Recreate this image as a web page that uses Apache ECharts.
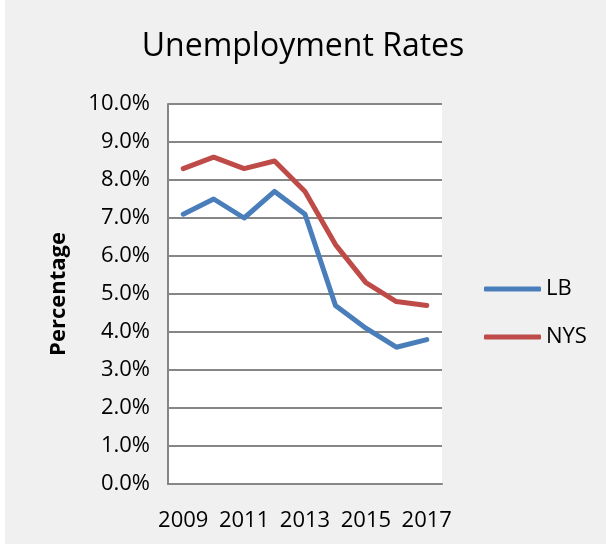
<!DOCTYPE html>
<html><head><meta charset="utf-8">
<script src="https://cdn.jsdelivr.net/npm/echarts@6/dist/echarts.min.js"></script>
<style>html,body{margin:0;padding:0;background:#fff;}#c{width:606px;height:544px;}</style>
</head><body><div id="c"></div>
<script>
const years = ['2009','2010','2011','2012','2013','2014','2015','2016','2017'];
const lb = [7.1, 7.5, 7.0, 7.7, 7.1, 4.7, 4.1, 3.6, 3.8];
const nys = [8.3, 8.6, 8.3, 8.5, 7.7, 6.3, 5.3, 4.8, 4.7];
const chart = echarts.init(document.getElementById('c'), null, {renderer:'canvas'});
const font = '"Open Sans", "Noto Sans", sans-serif';
chart.setOption({
  backgroundColor: '#f0f0f0',
  animation: false,
  graphic: [{type:'rect', left:0, top:0, shape:{width:5, height:544}, style:{fill:'#fff'}}],
  title: {text:'Unemployment Rates', left:'center', top:26, textStyle:{fontFamily:font, fontSize:32, fontWeight:'normal', color:'#000'}},
  grid: {left:168, right:164, top:104, bottom:60, show:true, backgroundColor:'#fff', borderWidth:0},
  legend: {orient:'vertical', left:479, top:273, itemGap:26, itemWidth:57, itemHeight:5,
    textStyle:{fontFamily:font, fontSize:22, color:'#000'},
    data:[{name:'LB', icon:'roundRect'},{name:'NYS', icon:'roundRect'}]},
  xAxis: {type:'category', data:years, boundaryGap:true,
    axisLine:{lineStyle:{color:'#868686', width:2}}, axisTick:{show:false},
    axisLabel:{interval:1, color:'#000', fontFamily:font, fontSize:22, margin:26}},
  yAxis: {type:'value', min:0, max:10, interval:1,
    name:'Percentage', nameLocation:'middle', nameGap:98, nameRotate:90,
    nameTextStyle:{fontFamily:font, fontSize:22, fontWeight:'bold', color:'#000'},
    axisLine:{show:true, lineStyle:{color:'#868686', width:2}}, axisTick:{show:false},
    splitLine:{lineStyle:{color:'#868686', width:2}},
    axisLabel:{formatter:v=>v.toFixed(1)+'%', color:'#000', fontFamily:font, fontSize:22, margin:18}},
  series: [
    {name:'LB', type:'line', data:lb, symbol:'none', lineStyle:{color:'#4a7ebb', width:5, cap:'round', join:'round'}, itemStyle:{color:'#4a7ebb'}},
    {name:'NYS', type:'line', data:nys, symbol:'none', lineStyle:{color:'#be4b48', width:5, cap:'round', join:'round'}, itemStyle:{color:'#be4b48'}}
  ]
});
</script></body></html>
